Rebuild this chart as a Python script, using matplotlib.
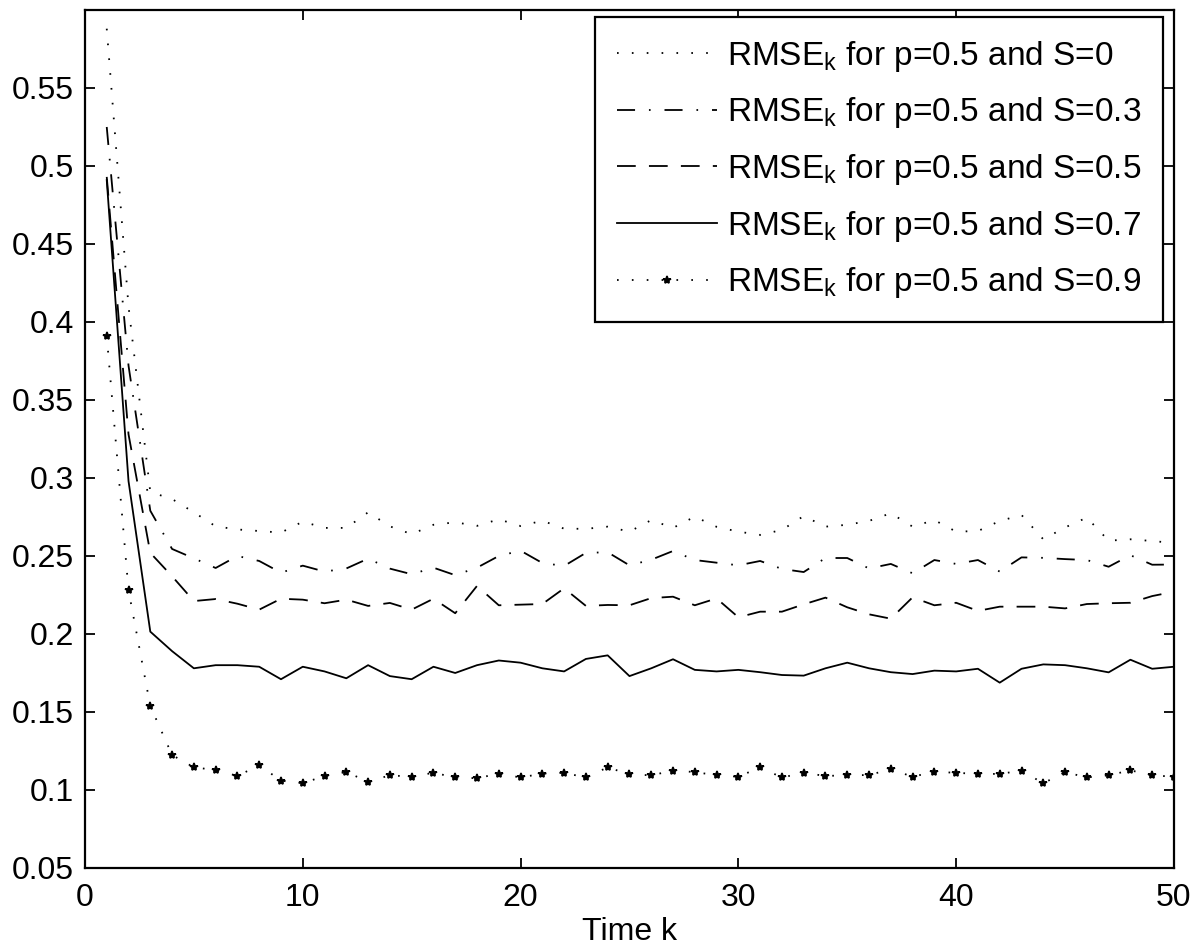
import numpy as np
import matplotlib
matplotlib.use("Agg")
import matplotlib.pyplot as plt

plt.rcParams['font.family'] = ['Liberation Sans', 'DejaVu Sans']
plt.rcParams['mathtext.fontset'] = 'custom'
plt.rcParams['mathtext.rm'] = 'Liberation Sans'
plt.rcParams['mathtext.it'] = 'Liberation Sans'
plt.rcParams['lines.scale_dashes'] = False

# time steps
k = np.arange(1, 51)

# RMSE_k, p=0.5
rmse_s00 = [0.588, 0.41, 0.291, 0.2865, 0.278, 0.269, 0.267, 0.266, 0.265, 0.272,
            0.268, 0.268, 0.278, 0.269, 0.264, 0.270, 0.2716, 0.2693, 0.2735, 0.2692,
            0.2726, 0.2675, 0.2674, 0.2688, 0.2656, 0.273, 0.268, 0.2752, 0.2687, 0.2656,
            0.2635, 0.2667, 0.2756, 0.2688, 0.270, 0.2725, 0.2774, 0.2688, 0.273, 0.2656,
            0.266, 0.2724, 0.2763, 0.2607, 0.2683, 0.2746, 0.2598, 0.2607, 0.2596, 0.2583]
rmse_s03 = [0.525, 0.372, 0.279, 0.2545, 0.2485, 0.2423, 0.250, 0.2468, 0.2393, 0.2438,
            0.240, 0.242, 0.2483, 0.2419, 0.2383, 0.2425, 0.2377, 0.2425, 0.250, 0.2534,
            0.2455, 0.2436, 0.252, 0.2524, 0.244, 0.2476, 0.2532, 0.2474, 0.2457, 0.244,
            0.2468, 0.2417, 0.2397, 0.2487, 0.2487, 0.242, 0.2449, 0.2389, 0.2474, 0.2449,
            0.2474, 0.240, 0.2491, 0.2488, 0.248, 0.2474, 0.2431, 0.2505, 0.2444, 0.2445]
rmse_s05 = [0.493, 0.328, 0.252, 0.237, 0.2211, 0.2224, 0.2194, 0.2156, 0.2226, 0.222,
            0.2197, 0.222, 0.218, 0.2199, 0.2156, 0.2226, 0.2133, 0.2308, 0.2184, 0.2188,
            0.2192, 0.2293, 0.218, 0.2186, 0.2184, 0.223, 0.2239, 0.2184, 0.2228, 0.2107,
            0.2143, 0.2143, 0.219, 0.2233, 0.2171, 0.2126, 0.2098, 0.2235, 0.2184, 0.220,
            0.2148, 0.2175, 0.2175, 0.2175, 0.2164, 0.2192, 0.2197, 0.220, 0.2243, 0.2271]
rmse_s07 = [0.491, 0.298, 0.2015, 0.189, 0.178, 0.180, 0.180, 0.179, 0.171, 0.179,
            0.176, 0.1716, 0.180, 0.173, 0.171, 0.179, 0.175, 0.180, 0.183, 0.1816,
            0.178, 0.176, 0.184, 0.1863, 0.173, 0.178, 0.1838, 0.177, 0.176, 0.177,
            0.1755, 0.1737, 0.1733, 0.178, 0.1816, 0.178, 0.1755, 0.1743, 0.1765, 0.176,
            0.1777, 0.1688, 0.1777, 0.1805, 0.180, 0.178, 0.1754, 0.1835, 0.1777, 0.179]
rmse_s09 = [0.391, 0.228, 0.1538, 0.1224, 0.1145, 0.1128, 0.109, 0.1158, 0.106, 0.1043,
            0.109, 0.1115, 0.1053, 0.1094, 0.1085, 0.111, 0.1081, 0.1075, 0.1105, 0.108,
            0.1105, 0.111, 0.108, 0.1145, 0.110, 0.1094, 0.1124, 0.1115, 0.1094, 0.1085,
            0.1145, 0.108, 0.111, 0.109, 0.1094, 0.1096, 0.1133, 0.1085, 0.1117, 0.111,
            0.1103, 0.1103, 0.1124, 0.1043, 0.1115, 0.108, 0.1094, 0.1126, 0.1094, 0.1085]

labels = [r'RMSE$_\mathrm{k}$ for p=0.5 and S=0',
          r'RMSE$_\mathrm{k}$ for p=0.5 and S=0.3',
          r'RMSE$_\mathrm{k}$ for p=0.5 and S=0.5',
          r'RMSE$_\mathrm{k}$ for p=0.5 and S=0.7',
          r'RMSE$_\mathrm{k}$ for p=0.5 and S=0.9']

xticks = [0, 10, 20, 30, 40, 50]
yticks = [0.05, 0.1, 0.15, 0.2, 0.25, 0.3, 0.35, 0.4, 0.45, 0.5, 0.55]
ytick_labels = ['0.05', '0.1', '0.15', '0.2', '0.25', '0.3', '0.35', '0.4', '0.45', '0.5', '0.55']

dotted = (0, (1.2, 9.5))
dashdot = (0, (13, 10, 1.2, 10))
dashed = (0, (13.5, 9.5))

fig = plt.figure(figsize=(12, 9.51), dpi=100)
ax = fig.add_axes([0.0708, 0.0873, 0.9075, 0.9022])

ax.plot(k, rmse_s00, color='black', lw=1.3, linestyle=dotted, label=labels[0])
ax.plot(k, rmse_s03, color='black', lw=1.3, linestyle=dashdot, label=labels[1])
ax.plot(k, rmse_s05, color='black', lw=1.3, linestyle=dashed, label=labels[2])
ax.plot(k, rmse_s07, color='black', lw=1.3, linestyle='-', label=labels[3])
ax.plot(k, rmse_s09, color='black', lw=1.3, linestyle=dotted, marker='*',
        markersize=6, markeredgewidth=1.2, label=labels[4])

ax.set_xlim(0, 50)
ax.set_ylim(0.05, 0.6)
ax.set_xticks(xticks)
ax.set_xticklabels([str(t) for t in xticks])
ax.set_yticks(yticks)
ax.set_yticklabels(ytick_labels)
ax.tick_params(direction='in', length=7, width=1.3, labelsize=23, pad=8,
               top=True, right=True)
ax.tick_params(axis='x', pad=11)
for sp in ax.spines.values():
    sp.set_linewidth(1.6)

ax.set_xlabel('Time k', fontsize=23, labelpad=3)

leg = ax.legend(loc='upper right', bbox_to_anchor=(0.99, 0.992), fontsize=24,
                fancybox=False, framealpha=1, edgecolor='black',
                handlelength=3.0, labelspacing=0.65, borderaxespad=0,
                handletextpad=0.3, borderpad=0.65)
leg.get_frame().set_linewidth(1.6)

fig.savefig('out.png', dpi=100)
